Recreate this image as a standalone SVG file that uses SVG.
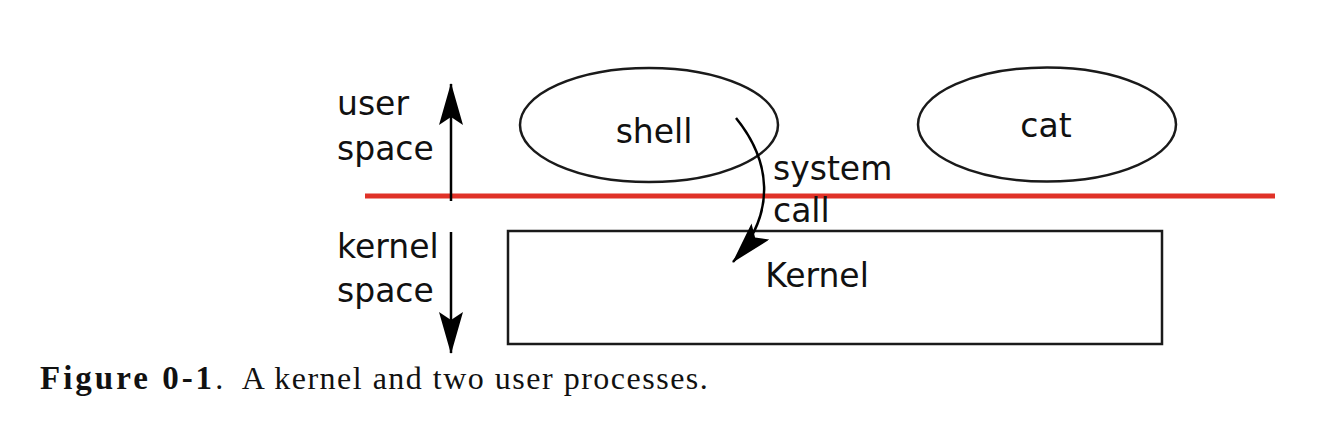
<svg xmlns="http://www.w3.org/2000/svg" width="1340" height="426" viewBox="0 0 1340 426">
<style>
.lbl{font-family:"DejaVu Sans",sans-serif;font-size:33px;fill:#111}
.shape{fill:none;stroke:#1a1a1a;stroke-width:2.5}
.arr{fill:none;stroke:#000;stroke-width:2.5}
.cap{font-family:"Liberation Serif",serif;font-size:32px;fill:#111;letter-spacing:1.5px}
.capb{font-weight:bold;font-size:33px;letter-spacing:3px}
</style>
<defs>
<marker id="ah" viewBox="0 0 42 24" refX="41" refY="12" markerWidth="42" markerHeight="24" markerUnits="userSpaceOnUse" orient="auto">
<path d="M0,0 L42,12 L0,24 L8,12 Z" fill="#000"/>
</marker>
</defs>
<rect width="1340" height="426" fill="#fff"/>
<g id="boundary"><line x1="365" y1="196" x2="1275" y2="196" stroke="#e03228" stroke-width="5"/></g>
<g id="shell"><ellipse class="shape" cx="649" cy="125" rx="129" ry="57"/><text class="lbl" x="654" y="143" text-anchor="middle">shell</text></g>
<g id="cat"><ellipse class="shape" cx="1047" cy="124.5" rx="129" ry="57"/><text class="lbl" x="1046" y="137" text-anchor="middle">cat</text></g>
<g id="kernel"><rect class="shape" x="508" y="231" width="654" height="113"/><text class="lbl" x="817" y="287" text-anchor="middle">Kernel</text></g>
<g id="user-space"><text class="lbl" x="337" y="115">user</text><text class="lbl" x="337" y="160">space</text></g>
<g id="kernel-space"><text class="lbl" x="337" y="258">kernel</text><text class="lbl" x="337" y="302">space</text></g>
<g id="connectors">
<line class="arr" x1="451" y1="201" x2="451" y2="84" marker-end="url(#ah)"/>
<line class="arr" x1="451" y1="232" x2="451" y2="353" marker-end="url(#ah)"/>
<path class="arr" d="M736,118 C770,160 778,212 733,262" marker-end="url(#ah)"/>
<text class="lbl" x="773" y="180">system</text>
<text class="lbl" x="773" y="222">call</text>
</g>
<g id="caption">
<text class="cap" x="40" y="389" xml:space="preserve"><tspan class="capb">Figure 0-1</tspan>.  A kernel and two user processes.</text>
</g>
</svg>
